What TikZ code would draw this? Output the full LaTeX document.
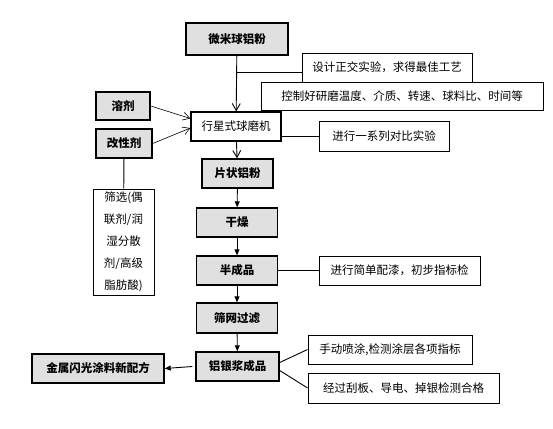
\documentclass[tikz,border=0pt]{standalone}
\usepackage{fontspec}
\setmainfont{Noto Sans CJK SC}
\usetikzlibrary{arrows.meta}
\tikzset{
    mainbox/.style={draw=black,fill=black!12,line width=1.4pt,inner sep=0pt,font=\fontsize{11.5}{13}\selectfont\bfseries},
    notebox/.style={draw=black,fill=white,line width=0.9pt,inner sep=0pt,font=\fontsize{11.5}{13}\selectfont},
    openarrow/.style={-{Straight Barb[length=7pt,width=8pt]}},
    fillarrow/.style={-{Triangle[length=6pt,width=5pt]}}
}
\begin{document}
\begin{tikzpicture}[x=1pt,y=-1pt,line width=0.9pt]
            \useasboundingbox (0,0) rectangle (553,428);

            \node[mainbox,minimum width=102pt,minimum height=32pt] (wmq) at (237,39) {微米球铝粉};
            \node[notebox,minimum width=170pt,minimum height=29pt] (sheji) at (387,67.5) {设计正交实验，求得最佳工艺};
            \node[notebox,minimum width=282pt,minimum height=28pt] (kongzhi) at (402,96) {控制好研磨温度、介质、转速、球料比、时间等};
            \node[mainbox,minimum width=54pt,minimum height=28pt] (rongji) at (123,106) {溶剂};
            \node[notebox,line width=1.2pt,minimum width=90pt,minimum height=29pt] (xingxing) at (236,126.5) {行星式球磨机};
            \node[notebox,minimum width=130pt,minimum height=30pt] (duibi) at (384,136) {进行一系列对比实验};
            \node[mainbox,minimum width=56pt,minimum height=29pt] (gaixing) at (124,143.5) {改性剂};
            \node[notebox,minimum width=61pt,minimum height=106pt,align=center,
                font=\fontsize{11.5}{22}\selectfont] (shaixuan) at (123.5,242) {筛选(偶\\联剂/润\\湿分散\\剂/高级\\脂肪酸)};
            \node[mainbox,minimum width=71pt,minimum height=29pt] (pianzhuang) at (237.5,173.5) {片状铝粉};
            \node[mainbox,minimum width=81pt,minimum height=29pt] (ganzao) at (237,222.5) {干燥};
            \node[mainbox,minimum width=81pt,minimum height=29pt] (banchengpin) at (237,270.5) {半成品};
            \node[notebox,minimum width=161pt,minimum height=29pt] (peiqi) at (399.5,270.5) {进行简单配漆，初步指标检};
            \node[mainbox,minimum width=81pt,minimum height=30pt] (shaiwang) at (237,318) {筛网过滤};
            \node[mainbox,minimum width=83pt,minimum height=29pt] (lvyinjiang) at (237.5,366.5) {铝银浆成品};
            \node[mainbox,minimum width=132pt,minimum height=29pt] (jinshu) at (98,368.5) {金属闪光涂料新配方};
            \node[notebox,minimum width=164pt,minimum height=29pt] (shoudong) at (390,349.5) {手动喷涂,检测涂层各项指标};
            \node[notebox,minimum width=191pt,minimum height=30pt] (guaban) at (403.5,388) {经过刮板、导电、掉银检测合格};

            \coordinate (fork) at (237,72);

            \draw[openarrow] (wmq) -- (xingxing);
            \draw (fork) -- (fork -| sheji.west);
            \draw[openarrow,line width=0.6pt] (rongji.east) -- ([yshift=8pt]xingxing.west);
            \draw[openarrow,line width=0.6pt] (gaixing.east) -- ([yshift=-1.5pt]xingxing.west);
            \draw (xingxing.east |- duibi.west) -- (duibi.west);
            \draw (gaixing) -- (shaixuan);
            \draw[openarrow] (xingxing) -- (pianzhuang);
            \draw[fillarrow] (pianzhuang) -- (ganzao);
            \draw[fillarrow] (ganzao) -- (banchengpin);
            \draw (banchengpin) -- (peiqi);
            \draw[fillarrow] (banchengpin) -- (shaiwang);
            \draw[fillarrow] (shaiwang) -- (lvyinjiang);
            \draw[fillarrow] ([xshift=-3pt]lvyinjiang.west) -- (jinshu.east);
            \draw ([yshift=4pt]lvyinjiang.east) -- (shoudong.west);
            \draw ([yshift=-4pt]lvyinjiang.east) -- (guaban.west);
        \end{tikzpicture}
\end{document}
